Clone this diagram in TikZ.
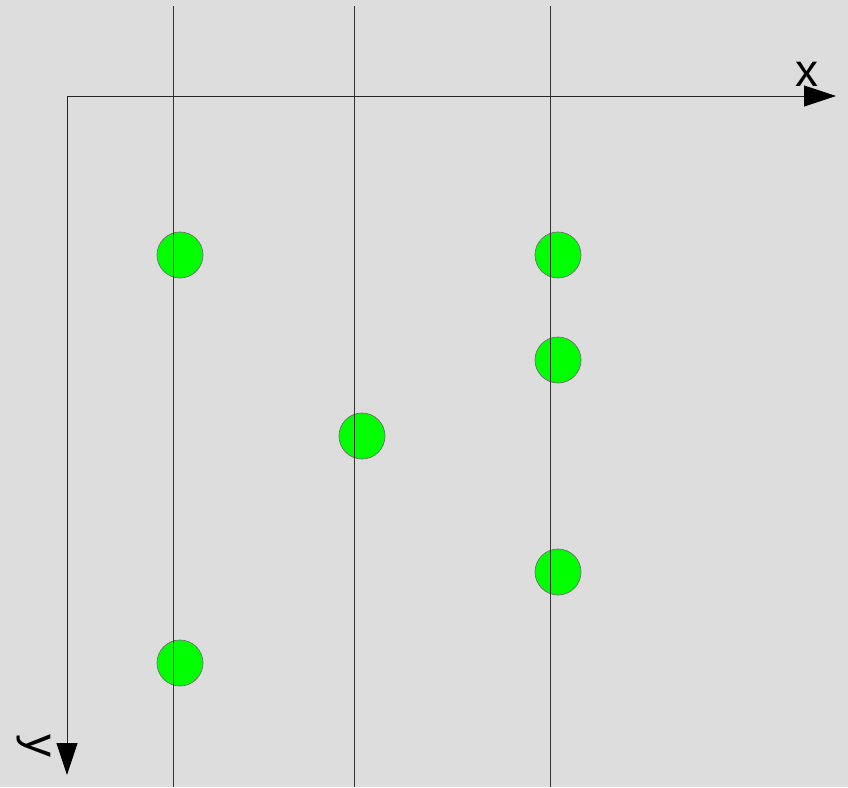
\documentclass[tikz,border=0pt]{standalone}
\usepackage{fontspec}
\setmainfont{Liberation Sans}
\usetikzlibrary{arrows.meta}
\definecolor{bggray}{RGB}{221, 221, 221}
\definecolor{ptgreen}{RGB}{0, 255, 0}
\definecolor{ptedge}{RGB}{110, 110, 110}
\tikzset{
  gridline/.style={draw=black!80, line width=0.9pt},
  axisline/.style={draw=black!85, line width=0.9pt, -{Triangle[length=32pt, width=21pt, color=black, fill=black]}},
  ptnode/.style={circle, fill=ptgreen, draw=ptedge, line width=0.7pt, minimum size=46pt, inner sep=0pt},
  axlabel/.style={font=\fontsize{46}{46}\selectfont, inner sep=0pt},
}
\begin{document}
\begin{tikzpicture}[x=1pt, y=-1pt]
  \fill[bggray] (0,0) rectangle (848,787);
  \useasboundingbox (0,0) rectangle (848,787);
  % points
  \foreach \n/\px/\py in {p1/180/255, p2/558/255, p3/558/360, p4/362/436, p5/558/572, p6/180/663}
    \node[ptnode] (\n) at (\px,\py) {};
  % vertical lines
  \foreach \n/\xx in {a/173, b/354, c/550} {
    \coordinate (\n top) at (\xx,6);
    \coordinate (\n bot) at (\xx,787);
    \draw[gridline] (\n top) -- (\n bot);
  }
  % axes
  \coordinate (o) at (67,96);
  \coordinate (xend) at (836,96);
  \coordinate (yend) at (67,775);
  \draw[axisline] (o) -- (xend);
  \draw[axisline] (o) -- (yend);
  \node[axlabel] (xlab) at (807,74) {x};
  \node[axlabel, rotate=-90] (ylab) at (34,746) {y};
\end{tikzpicture}
\end{document}
